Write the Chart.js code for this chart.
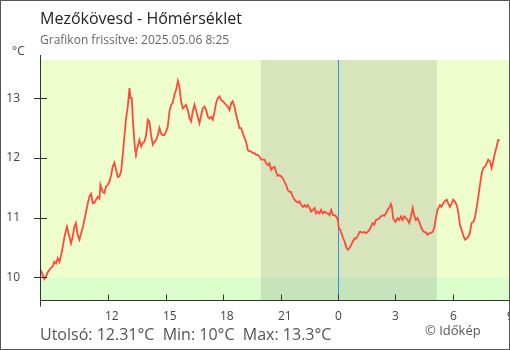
<!DOCTYPE html>
<html>
<head>
<meta charset="utf-8">
<script src="https://cdn.jsdelivr.net/npm/chart.js@4.4.1/dist/chart.umd.min.js"></script>
<style>
html,body{margin:0;padding:0;background:#fff;}
#wrap{width:510px;height:350px;position:relative;}
</style>
</head>
<body>
<div id="wrap"><canvas id="c" width="510" height="350"></canvas></div>
<script>
const titleText = "Mezőkövesd - Hőmérséklet";
const subtitleText = "Grafikon frissítve: 2025.05.06 8:25";
const unitText = "°C";
const footerText = "Utolsó: 12.31°C  Min: 10°C  Max: 13.3°C";
const creditText = "© Időkép";

const hours = [
8.42,8.47,8.56,8.65,8.73,8.82,8.96,9.08,9.17,9.26,9.35,9.44,9.52,9.61,9.70,9.83,9.91,10.04,10.13,10.22,10.30,10.39,10.48,10.57,10.65,10.74,10.83,10.92,11.01,11.09,11.18,11.27,11.35,11.44,11.53,11.58,11.70,11.79,11.87,11.96,12.05,12.14,12.22,12.31,12.40,12.49,12.57,
12.66,12.75,12.84,12.92,13.01,13.10,13.15,13.22,13.27,13.32,13.39,13.44,13.53,13.62,13.71,13.79,13.88,13.97,14.06,14.14,14.23,14.32,14.41,14.49,14.58,14.67,14.75,14.84,14.93,15.01,15.10,15.19,15.28,15.36,15.45,15.54,15.63,15.71,15.80,15.89,15.98,16.06,16.15,16.24,16.32,16.41,16.50,16.58,16.67,16.76,
16.85,16.93,17.02,17.11,17.20,17.28,17.37,17.46,17.55,17.63,17.72,17.81,17.89,17.98,18.07,18.15,18.24,18.33,18.42,18.50,18.59,18.68,18.77,18.85,18.94,19.03,19.12,19.20,19.29,19.38,19.46,19.55,19.64,19.72,19.81,19.90,19.99,20.07,20.16,20.25,20.34,20.42,20.51,20.60,20.69,20.77,
20.86,20.95,21.03,21.12,21.21,21.29,21.38,21.47,21.55,21.64,21.73,21.82,21.91,21.99,22.08,22.17,22.26,22.34,22.43,22.52,22.60,22.69,22.78,22.86,22.95,23.04,23.12,23.21,23.30,23.39,23.48,23.56,23.65,23.74,23.83,23.91,24.00,24.05,24.14,24.21,24.28,24.35,24.43,24.52,24.61,24.69,24.78,24.87,24.95,25.04,25.13,
25.20,25.29,25.38,25.46,25.55,25.64,25.73,25.81,25.90,25.99,26.08,26.16,26.25,26.34,26.42,26.51,26.60,26.68,26.77,26.82,26.89,27.00,27.12,27.21,27.30,27.38,27.47,27.56,27.65,27.73,27.82,27.91,27.99,28.08,28.17,28.25,28.34,28.43,28.51,28.60,28.69,28.78,28.86,28.95,29.04,29.12,29.21,
29.34,29.42,29.51,29.60,29.69,29.77,29.86,29.95,30.03,30.12,30.21,30.29,30.38,30.47,30.55,30.64,30.73,30.82,30.90,30.99,31.08,31.16,31.25,31.34,31.43,31.52,31.60,31.69,31.78,31.86,31.95,32.04,32.12,32.21,32.30,32.38,32.42
];
const temps = [
10.09,10.11,10.04,9.97,10.01,10.08,10.15,10.18,10.26,10.23,10.32,10.26,10.37,10.51,10.68,10.85,10.74,10.57,10.68,10.85,10.91,10.71,10.63,10.74,10.82,10.96,11.10,11.24,11.36,11.40,11.24,11.25,11.30,11.35,11.32,11.55,11.43,11.41,11.52,11.55,11.60,11.71,11.85,11.92,11.80,11.68,11.69,
11.77,12.06,12.38,12.66,12.86,13.17,13.00,13.00,12.66,12.44,12.13,12.08,12.19,12.30,12.19,12.25,12.27,12.38,12.64,12.61,12.38,12.22,12.27,12.30,12.38,12.50,12.41,12.38,12.38,12.44,12.52,12.78,12.89,12.92,13.06,13.14,13.29,13.19,12.94,12.83,12.86,12.89,12.80,12.66,12.61,12.78,12.89,12.80,12.69,12.58,
12.72,12.83,12.86,12.80,12.69,12.66,12.69,12.64,12.78,12.92,13.00,13.03,12.97,12.95,12.92,12.89,12.86,12.80,12.92,12.95,12.86,12.72,12.61,12.50,12.50,12.41,12.33,12.27,12.13,12.11,12.11,12.08,12.08,12.05,12.05,12.02,11.97,11.97,11.97,11.91,11.88,11.91,11.80,11.84,11.85,11.76,
11.70,11.71,11.69,11.66,11.60,11.55,11.46,11.43,11.43,11.35,11.30,11.27,11.25,11.27,11.21,11.18,11.21,11.18,11.21,11.16,11.10,11.13,11.16,11.07,11.10,11.07,11.13,11.07,11.10,11.08,11.07,11.04,11.13,11.04,11.04,11.02,10.96,10.82,10.79,10.71,10.65,10.60,10.51,10.46,10.49,10.54,10.60,10.65,10.65,10.69,10.76,
10.76,10.75,10.76,10.74,10.76,10.79,10.85,10.91,10.88,10.96,10.97,10.99,11.02,11.04,11.03,11.07,11.13,11.16,11.23,11.18,10.99,10.93,10.99,10.96,11.02,10.96,11.02,10.99,10.96,10.91,11.02,11.16,11.04,10.96,10.99,10.93,10.85,10.79,10.76,10.75,10.71,10.74,10.74,10.76,10.83,10.99,11.13,
11.21,11.18,11.24,11.28,11.30,11.24,11.18,11.24,11.30,11.27,11.21,11.10,10.88,10.79,10.71,10.63,10.65,10.68,10.74,10.91,10.93,10.99,11.16,11.35,11.55,11.74,11.83,11.85,11.91,11.97,11.94,11.83,11.94,12.08,12.19,12.30,12.31
];

const xTickValues = [12, 15, 18, 21, 24, 27, 30, 33];
const yTickValues = [10, 11, 12, 13];
const xRange = [8.42, 33.0];
const yRange = [9.62, 13.64];
const nightRange = [19.97, 29.17];
const midnight = 24;
const lowThreshold = 10;

const FONT = "'Open Sans', 'Noto Sans', sans-serif";

const decor = {
  id: 'decor',
  beforeDraw(chart) {
    const ctx = chart.ctx;
    const a = chart.chartArea;
    const xs = chart.scales.x, ys = chart.scales.y;
    ctx.save();
    ctx.fillStyle = '#ffffff';
    ctx.fillRect(0, 0, chart.width, chart.height);
    const yLow = ys.getPixelForValue(lowThreshold);
    const nx0 = xs.getPixelForValue(nightRange[0]);
    const nx1 = xs.getPixelForValue(nightRange[1]);
    ctx.fillStyle = '#eefdcc';
    ctx.fillRect(a.left, a.top, a.right - a.left, yLow - a.top);
    ctx.fillStyle = '#dcfdcc';
    ctx.fillRect(a.left, yLow, a.right - a.left, a.bottom - yLow);
    ctx.fillStyle = '#d8e4bb';
    ctx.fillRect(nx0, a.top, nx1 - nx0, yLow - a.top);
    ctx.fillStyle = '#c6e4bb';
    ctx.fillRect(nx0, yLow, nx1 - nx0, a.bottom - yLow);
    const mx = Math.round(xs.getPixelForValue(midnight)) + 0.5;
    ctx.strokeStyle = '#2196f3';
    ctx.lineWidth = 1;
    ctx.beginPath();
    ctx.moveTo(mx, a.top);
    ctx.lineTo(mx, a.bottom);
    ctx.stroke();
    ctx.restore();
  },
  afterDraw(chart) {
    const ctx = chart.ctx;
    const a = chart.chartArea;
    const xs = chart.scales.x, ys = chart.scales.y;
    ctx.save();
    ctx.strokeStyle = '#333';
    ctx.lineWidth = 1;
    const ax = Math.round(a.left) + 0.5;
    ctx.beginPath();
    ctx.moveTo(ax, 55);
    ctx.lineTo(ax, a.bottom);
    ctx.stroke();
    yTickValues.forEach(v => {
      const y = Math.round(ys.getPixelForValue(v)) + 0.5;
      ctx.beginPath();
      ctx.moveTo(a.left - 6, y);
      ctx.lineTo(a.left + 7, y);
      ctx.stroke();
    });
    const by = Math.round(a.bottom) + 0.5;
    ctx.beginPath();
    ctx.moveTo(ax, by);
    ctx.lineTo(ax, by + 6);
    ctx.stroke();
    ctx.font = '12px ' + FONT;
    ctx.fillStyle = '#444';
    ctx.textAlign = 'left';
    ctx.textBaseline = 'alphabetic';
    xTickValues.forEach(v => {
      const x = Math.round(xs.getPixelForValue(v)) + 0.5;
      ctx.beginPath();
      ctx.moveTo(x, by - 6);
      ctx.lineTo(x, by);
      ctx.stroke();
      ctx.fillText(String(v % 24), x - 3.5, 320);
    });
    ctx.fillStyle = '#222';
    ctx.font = '16px ' + FONT;
    ctx.fillText(titleText, 40, 24);
    ctx.fillStyle = '#666';
    ctx.font = '12px ' + FONT;
    ctx.fillText(subtitleText, 40, 44);
    ctx.fillStyle = '#444';
    ctx.fillText(unitText, 12, 55);
    ctx.fillStyle = '#555';
    ctx.font = '16px ' + FONT;
    ctx.fillText(footerText, 40, 340);
    ctx.font = '13px ' + FONT;
    ctx.fillText(creditText, 425, 335);
    ctx.strokeStyle = '#555';
    ctx.strokeRect(0.5, 0.5, chart.width - 1, chart.height - 1);
    ctx.restore();
  }
};

new Chart(document.getElementById('c'), {
  type: 'line',
  data: {
    datasets: [{
      data: hours.map((h, i) => ({ x: h, y: temps[i] })),
      borderColor: '#ff4a3a',
      borderWidth: 1.8,
      pointRadius: 0,
      tension: 0,
      fill: false
    }]
  },
  options: {
    responsive: false,
    animation: false,
    events: [],
    layout: { padding: { top: 60, left: 0, right: 0, bottom: 50 } },
    plugins: { legend: { display: false }, tooltip: { enabled: false }, title: { display: false } },
    scales: {
      x: {
        type: 'linear',
        min: xRange[0],
        max: xRange[1],
        ticks: { display: false },
        grid: { display: false, drawTicks: false },
        border: { display: true, color: '#333', width: 1 }
      },
      y: {
        min: yRange[0],
        max: yRange[1],
        afterBuildTicks: s => { s.ticks = yTickValues.map(v => ({ value: v })); },
        afterFit: s => { s.width = 40; },
        ticks: { color: '#444', font: { family: FONT, size: 12 }, padding: 20 },
        grid: { display: false, drawTicks: false },
        border: { display: true, color: '#333', width: 1 }
      }
    }
  },
  plugins: [decor]
});
</script>
</body>
</html>
